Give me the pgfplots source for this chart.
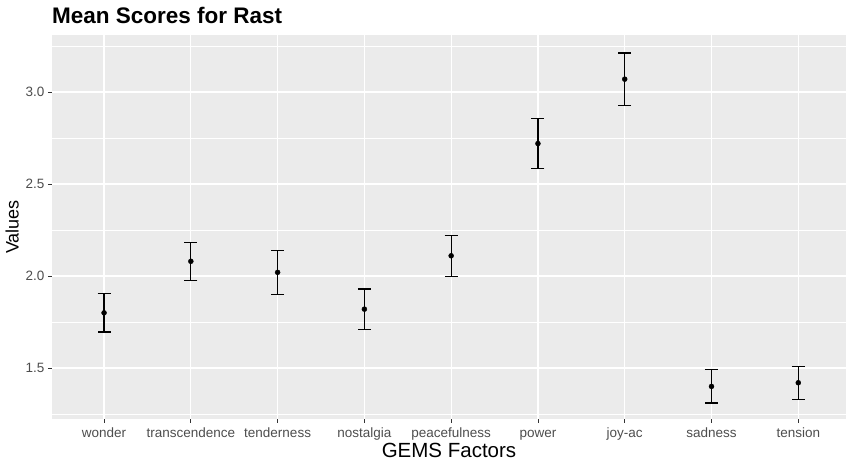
\documentclass[border=0pt]{standalone}
\usepackage{pgfplots}
\pgfplotsset{compat=1.18}
\usepackage{pgfplotstable}
\usepackage{fontspec}
\setmainfont{Liberation Sans}

\definecolor{panelbg}{HTML}{EBEBEB}
\definecolor{ticktext}{HTML}{4D4D4D}
\definecolor{tickmark}{HTML}{333333}

% mean score and standard error per GEMS factor
\pgfplotstableread{
idx mean se
0 1.80 0.104
1 2.08 0.104
2 2.02 0.119
3 1.82 0.110
4 2.11 0.111
5 2.72 0.135
6 3.07 0.142
7 1.40 0.090
8 1.42 0.090
}\gems

\begin{document}
\begin{tikzpicture}
\path[use as bounding box] (-52pt,-46pt) rectangle (797pt,419pt);
\begin{axis}[
  at={(0pt,0pt)}, anchor=south west,
  scale only axis, width=794pt, height=384pt,
  xmin=-0.6, xmax=8.55, ymin=1.223, ymax=3.31,
  axis line style={draw=none},
  axis background/.style={fill=panelbg},
  xtick={0,...,8},
  xticklabels={wonder,transcendence,tenderness,nostalgia,peacefulness,power,joy-ac,sadness,tension},
  ytick={1.5,2,2.5,3}, yticklabels={1.5,2.0,2.5,3.0},
  minor ytick={1.25,1.75,2.25,2.75,3.25},
  xmajorgrids, ymajorgrids, yminorgrids,
  major grid style={white, line width=1.2pt},
  minor grid style={white, line width=0.55pt},
  tick align=outside, xtick pos=bottom, ytick pos=left,
  major tick length=4pt, minor tick length=0pt,
  tick style={tickmark, line width=0.8pt},
  /pgf/number format/assume math mode=true,
  ticklabel style={font=\fontsize{13.5}{13.5}\selectfont, text=ticktext},
  xticklabel style={text height=9.5pt, text depth=3pt, yshift=-1.5pt},
]
\addplot[black, only marks, mark=*, mark size=2.5pt,
  error bars/.cd, y dir=both, y explicit,
  error bar style={line width=1.25pt, black},
  error mark options={rotate=90, mark size=6.5pt, line width=1.25pt, black}]
  table[x=idx, y=mean, y error=se]{\gems};
\end{axis}
\node[anchor=base west, inner sep=0pt, font=\bfseries\fontsize{22.5}{22.5}\selectfont] at (0pt,395pt) {Mean Scores for Rast};
\node[anchor=base, inner sep=0pt, font=\fontsize{20.5}{20.5}\selectfont] at (397pt,-39pt) {GEMS Factors};
\node[anchor=base, rotate=90, inner sep=0pt, font=\fontsize{18}{18}\selectfont] at (-33.5pt,192pt) {Values};
\end{tikzpicture}
\end{document}
